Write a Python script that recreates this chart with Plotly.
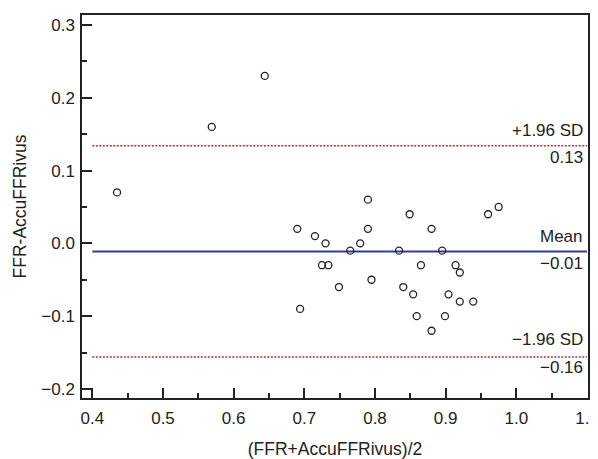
import plotly.graph_objects as go

# Bland-Altman data
mean_vals = [0.435, 0.569, 0.644,
             0.690, 0.694, 0.715, 0.725, 0.730, 0.734, 0.749, 0.765, 0.779,
             0.790, 0.790, 0.795, 0.834, 0.840, 0.849, 0.854, 0.859, 0.865,
             0.880, 0.880, 0.895, 0.899, 0.904, 0.914, 0.920, 0.920, 0.939,
             0.960, 0.975]
diff_vals = [0.07, 0.16, 0.23,
             0.02, -0.09, 0.01, -0.03, 0.00, -0.03, -0.06, -0.01, 0.00,
             0.06, 0.02, -0.05, -0.01, -0.06, 0.04, -0.07, -0.10, -0.03,
             0.02, -0.12, -0.01, -0.10, -0.07, -0.03, -0.04, -0.08, -0.08,
             0.04, 0.05]

mean_diff = -0.011
upper_loa = 0.134
lower_loa = -0.156
line_x = [0.4, 1.1]

font = "Liberation Sans, Arial, Helvetica, sans-serif"
ink = "#222222"

fig = go.Figure()

fig.add_trace(go.Scatter(x=line_x, y=[upper_loa, upper_loa], mode="lines",
                         line=dict(color="#a83236", width=1.5, dash="2px,1.5px"),
                         hoverinfo="skip"))
fig.add_trace(go.Scatter(x=line_x, y=[lower_loa, lower_loa], mode="lines",
                         line=dict(color="#a83236", width=1.5, dash="2px,1.5px"),
                         hoverinfo="skip"))
fig.add_trace(go.Scatter(x=line_x, y=[mean_diff, mean_diff], mode="lines",
                         line=dict(color="#353b96", width=2),
                         hoverinfo="skip"))
fig.add_trace(go.Scatter(x=mean_vals, y=diff_vals, mode="markers",
                         marker=dict(symbol="circle-open", size=7,
                                     color=ink, line=dict(width=1.3, color=ink))))

labels = [
    ("+1.96 SD", upper_loa, 15),
    ("0.13", upper_loa, -12),
    ("Mean", mean_diff, 15),
    ("\u22120.01", mean_diff, -12),
    ("\u22121.96 SD", lower_loa, 17),
    ("\u22120.16", lower_loa, -11),
]
for txt, yv, shift in labels:
    fig.add_annotation(x=1.1, y=yv, xref="x", yref="y", text=txt,
                       showarrow=False, xanchor="right", yanchor="middle",
                       xshift=-2, yshift=shift,
                       font=dict(family=font, size=17, color=ink))

axis_common = dict(showgrid=False, zeroline=False, showline=True, mirror=True,
                   automargin=False,
                   linecolor=ink, linewidth=1.5, ticks="inside", ticklen=10,
                   tickwidth=1.5, tickcolor=ink, tickformat=".1f",
                   tickfont=dict(family=font, size=17, color=ink))

fig.update_xaxes(range=[0.3854, 1.1014], dtick=0.1, tick0=0.4,
                 ticklabelstandoff=4, ticklabeloverflow="allow",
                 minor=dict(ticks="inside", ticklen=5, dtick=0.05, tick0=0.4,
                            tickcolor=ink, tickwidth=1.5),
                 title=dict(text="(FFR+AccuFFRivus)/2", standoff=16,
                            font=dict(family=font, size=17.5, color=ink)),
                 **axis_common)
fig.update_yaxes(range=[-0.2124, 0.3137], dtick=0.1, tick0=0,
                 ticklabelstandoff=2,
                 minor=dict(ticks="inside", ticklen=5, dtick=0.05, tick0=0,
                            tickcolor=ink, tickwidth=1.5),
                 title=dict(text="FFR-AccuFFRivus", standoff=10,
                            font=dict(family=font, size=17.5, color=ink)),
                 **axis_common)

# the page body adds an 8px offset, so the figure is sized 8px smaller
fig.update_layout(width=590, height=451, showlegend=False,
                  margin=dict(l=74, r=10, t=7, b=61),
                  paper_bgcolor="white", plot_bgcolor="white",
                  font=dict(family=font, size=17, color=ink))

fig.write_html("out.html")
